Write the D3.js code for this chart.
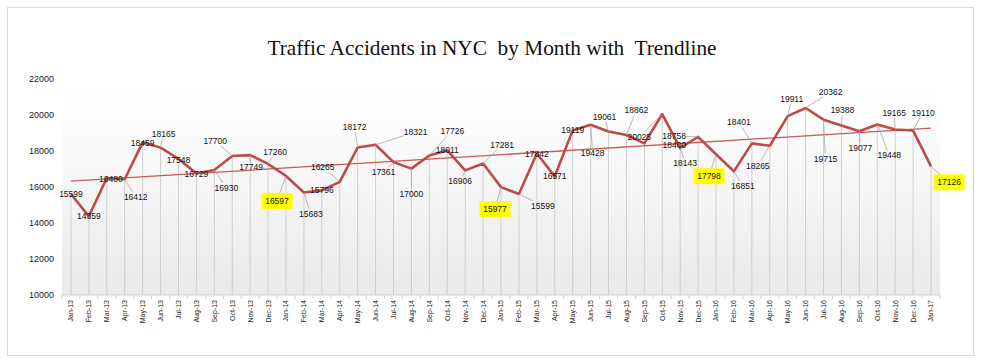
<!DOCTYPE html>
<html>
<head>
<meta charset="utf-8">
<script src="https://cdn.jsdelivr.net/npm/d3@7"></script>
<style>
  body { margin: 0; background: #fff; }
  svg { display: block; }
</style>
</head>
<body>
<div id="chart"></div>
<script>
// monthly data
var months = ["Jan-13","Feb-13","Mar-13","Apr-13","May-13","Jun-13","Jul-13","Aug-13","Sep-13","Oct-13","Nov-13","Dec-13",
  "Jan-14","Feb-14","Mar-14","Apr-14","May-14","Jun-14","Jul-14","Aug-14","Sep-14","Oct-14","Nov-14","Dec-14",
  "Jan-15","Feb-15","Mar-15","Apr-15","May-15","Jun-15","Jul-15","Aug-15","Sep-15","Oct-15","Nov-15","Dec-15",
  "Jan-16","Feb-16","Mar-16","Apr-16","May-16","Jun-16","Jul-16","Aug-16","Sep-16","Oct-16","Nov-16","Dec-16",
  "Jan-17"];
var accidents = [15599,14359,16480,16412,18459,18165,17548,16729,16930,17700,17749,17260,
  16597,15683,15796,16265,18172,18321,17361,17000,17726,18011,16906,17281,
  15977,15599,17842,16571,19119,19428,19061,18862,18400,20025,18143,18758,
  17798,16851,18401,18265,19911,20362,19715,19388,19077,19448,19165,19110,
  17126];
var yTicks = [10000,12000,14000,16000,18000,20000,22000];
var highlighted = ["Jan-14","Jan-15","Jan-16","Jan-17"];
var title = "Traffic Accidents in NYC  by Month with  Trendline";

// label nudges (px) so they sit where they were dragged in the original
var labelShift = [[0,0],[0,0],[4,1],[11,18],[0,1],[3,-14],[0,1],[0,0],[12,18],[-17,-15],[1,12],[7,-12],
  [-9,25],[7,22],[0,0],[-17,-15],[-3,-20],[40,-13],[-10,10],[0,25],[23,-25],[0,0],[-5,11],[19,-19],
  [-6,22],[24,12],[0,1],[0,0],[0,0],[2,28],[-4,-14],[10,-25],[30,2],[-23,23],[5,15],[-24,-1],
  [-7,22],[9,15],[-13,-21],[-12,20],[4,-17],[25,-16],[2,39],[1,-16],[1,17],[12,31],[-1,-17],[10,-18],
  [18,16]];
var noLeader = [32];

var svgWidth = 984, svgHeight = 364;
var margin = {top: 78.4, bottom: 69, left: 62, right: 44};
var width = svgWidth - margin.left - margin.right;
var height = svgHeight - margin.top - margin.bottom;

var svg = d3.select("#chart").append("svg")
  .attr("width", svgWidth)
  .attr("height", svgHeight);

// outer chart border
svg.append("rect")
  .attr("x", 7.5).attr("y", 7.5)
  .attr("width", 966).attr("height", 348)
  .attr("fill", "#fff")
  .attr("stroke", "#d9d9d9");

svg.append("text")
  .attr("x", 492).attr("y", 55)
  .attr("text-anchor", "middle")
  .attr("font-family", "Liberation Serif, serif")
  .attr("font-size", 21.5)
  .attr("textLength", 449)
  .attr("lengthAdjust", "spacingAndGlyphs")
  .style("white-space", "pre")
  .attr("fill", "#111")
  .text(title);

var defs = svg.append("defs");
var grad = defs.append("linearGradient")
  .attr("id", "plotBg").attr("x1", 0).attr("y1", 0).attr("x2", 0).attr("y2", 1);
grad.append("stop").attr("offset", "0%").attr("stop-color", "#ffffff");
grad.append("stop").attr("offset", "15%").attr("stop-color", "#fefefe");
grad.append("stop").attr("offset", "100%").attr("stop-color", "#e9e9e9");

var chartGroup = svg.append("g")
  .attr("transform", `translate(${margin.left}, ${margin.top})`);

chartGroup.append("rect")
  .attr("width", width).attr("height", height)
  .attr("fill", "url(#plotBg)");

var xScale = d3.scaleBand().domain(months).range([0, width]);
var yScale = d3.scaleLinear().domain([10000, 22000]).range([height, 0]);
var cx = d => xScale(d) + xScale.bandwidth() / 2;

// drop lines
chartGroup.selectAll(".drop")
  .data(months)
  .enter().append("line")
  .attr("x1", d => cx(d)).attr("x2", d => cx(d))
  .attr("y1", (d, i) => yScale(accidents[i]))
  .attr("y2", height)
  .attr("stroke", "#cfcfcf")
  .attr("stroke-width", 1);

// x axis
var xAxis = chartGroup.append("g")
  .attr("transform", `translate(0, ${height})`);
xAxis.append("line")
  .attr("x1", 0).attr("x2", width)
  .attr("stroke", "#d0d0d0");
xAxis.selectAll(".tick")
  .data(d3.range(months.length + 1))
  .enter().append("line")
  .attr("x1", i => i * xScale.bandwidth()).attr("x2", i => i * xScale.bandwidth())
  .attr("y1", 0).attr("y2", 4)
  .attr("stroke", "#d0d0d0");
xAxis.selectAll(".mlabel")
  .data(months)
  .enter().append("text")
  .attr("transform", d => `translate(${cx(d)}, 5) rotate(-90)`)
  .attr("dy", "0.35em")
  .attr("text-anchor", "end")
  .attr("font-family", "Liberation Sans, Arial, sans-serif")
  .attr("font-size", 7)
  .attr("fill", "#222")
  .text(d => d);

// y axis
var yAxis = d3.axisLeft(yScale).tickValues(yTicks).tickSize(0).tickPadding(8).tickFormat(d3.format("d"));
chartGroup.append("g")
  .call(yAxis)
  .call(g => g.select(".domain").remove())
  .selectAll("text")
  .attr("font-family", "Liberation Sans, Arial, sans-serif")
  .attr("font-size", 9)
  .attr("fill", "#222");

// trendline (least squares over month index)
var n = accidents.length;
var mx = d3.mean(d3.range(n)), my = d3.mean(accidents);
var slope = d3.sum(accidents, (v, i) => (i - mx) * (v - my)) / d3.sum(d3.range(n), i => (i - mx) * (i - mx));
var intercept = my - slope * mx;
chartGroup.append("line")
  .attr("x1", cx(months[0])).attr("y1", yScale(intercept))
  .attr("x2", cx(months[n - 1])).attr("y2", yScale(intercept + slope * (n - 1)))
  .attr("stroke", "#c65a58")
  .attr("stroke-width", 1.3);

// main line
var line = d3.line()
  .x((d, i) => cx(months[i]))
  .y(d => yScale(d));
chartGroup.append("path")
  .datum(accidents)
  .attr("d", line)
  .attr("fill", "none")
  .attr("stroke", "#bb4a48")
  .attr("stroke-width", 2.6)
  .attr("stroke-linejoin", "round");

// data labels
var labelLayer = chartGroup.append("g");
months.forEach(function(m, i) {
  var px = cx(m), py = yScale(accidents[i]);
  var lx = px + labelShift[i][0], ly = py + labelShift[i][1];
  var hw = 12, hh = 5;
  var dist = Math.hypot(labelShift[i][0], labelShift[i][1]);
  if (dist >= 12 && noLeader.indexOf(i) < 0) {
    // clip leader at the label box
    var dx = px - lx, dy = py - ly;
    var t = Math.min(hw / Math.abs(dx || 1e-6), hh / Math.abs(dy || 1e-6));
    labelLayer.append("line")
      .attr("x1", px).attr("y1", py)
      .attr("x2", lx + dx * t).attr("y2", ly + dy * t)
      .attr("stroke", "#a6a6a6")
      .attr("stroke-width", 0.8);
  }
  if (highlighted.indexOf(m) >= 0) {
    labelLayer.append("rect")
      .attr("x", lx - 15.5).attr("y", ly - 8)
      .attr("width", 31).attr("height", 16)
      .attr("fill", "#ffff00");
  }
  labelLayer.append("text")
    .attr("x", lx).attr("y", ly)
    .attr("dy", "0.35em")
    .attr("text-anchor", "middle")
    .attr("font-family", "Liberation Sans, Arial, sans-serif")
    .attr("font-size", 8.5)
    .attr("fill", "#111")
    .text(accidents[i]);
});
</script>
</body>
</html>
